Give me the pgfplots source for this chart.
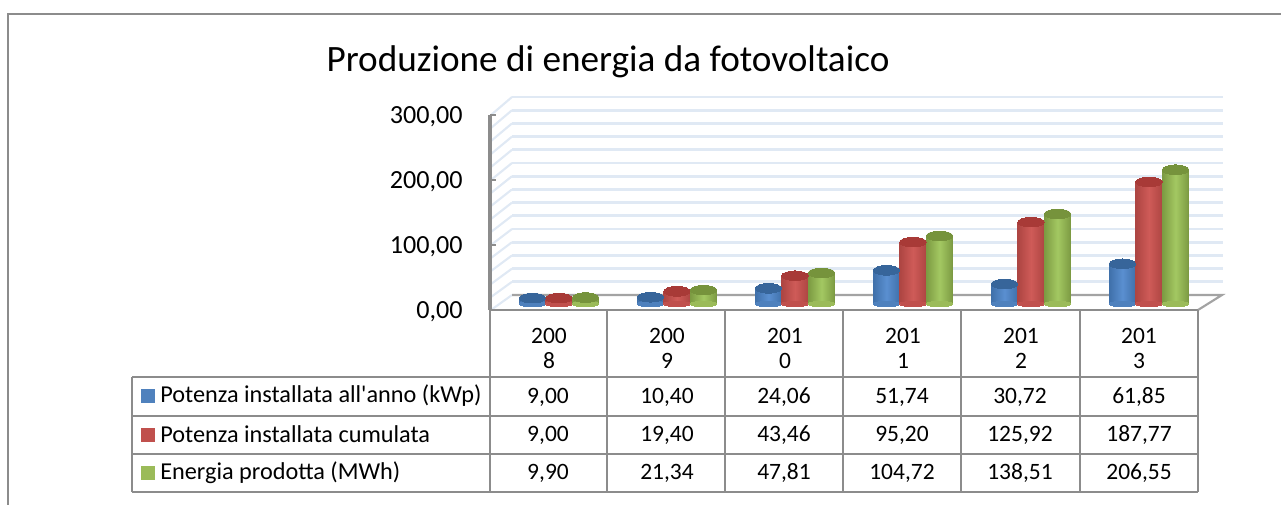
\documentclass[border=0pt]{standalone}
\usepackage{fontspec}
\setmainfont{Carlito}
\newfontfamily\plainf{Carlito}
\usepackage{pgfplots}
\usepackage{pgfplotstable}
\pgfplotsset{compat=1.18}
\definecolor{fr}{HTML}{8C8C8C}
\definecolor{gl}{HTML}{E0E9F4}
\definecolor{bl}{HTML}{4F81BD}\definecolor{blL}{HTML}{5A8FD0}\definecolor{blD}{HTML}{3F70AA}\definecolor{blC}{HTML}{37659A}
\definecolor{rd}{HTML}{C0504D}\definecolor{rdL}{HTML}{CF5B58}\definecolor{rdD}{HTML}{AD4542}\definecolor{rdC}{HTML}{A83A37}
\definecolor{gr}{HTML}{9BBB59}\definecolor{grL}{HTML}{A3C862}\definecolor{grD}{HTML}{7C9A42}\definecolor{grC}{HTML}{76933C}
\pgfplotstableread{
idx pot cum ene
0 9.00 9.00 9.90
1 10.40 19.40 21.34
2 24.06 43.46 47.81
3 51.74 95.20 104.72
4 30.72 125.92 138.51
5 61.85 187.77 206.55
}\datatab
\newcommand{\cell}[2]{\node[anchor=center,font=\fontsize{17.6}{20}\selectfont,inner sep=0pt] at (#1,#2)}
\pgfplotsset{
  capmark/.style n args={2}{only marks,mark=*,mark size=10pt,forget plot,
    color=#1,mark options={draw=#1,fill=#1,line width=0pt,xshift=#2,yscale=0.36}},
  basemark/.style n args={2}{only marks,mark=*,mark size=10pt,forget plot,
    color=#1,mark options={draw=#1,fill=#1,line width=0pt,xshift=#2,yscale=0.2}},
  cyl/.style n args={3}{draw=#2,line width=0pt,forget plot,bar shift=#1,
    left color=#2,right color=#2,middle color=#3}
}
\begin{document}
\begin{tikzpicture}[x=0.75pt,y=-0.75pt]
\path[use as bounding box] (0,0) rectangle (1281,505);
% outer frame
\draw[fr,line width=1.5pt] (1281,14) -- (8,14) -- (8,505);
% back wall gridlines
\begin{axis}[at={(384pt,-221.25pt)},anchor=south west,scale only axis,width=533.25pt,height=148.5pt,
  xmin=0,xmax=1,ymin=0,ymax=300,axis lines=none,clip=false]
\pgfplotsinvokeforeach{20,40,...,300}{\addplot[gl,line width=2.2pt,forget plot] coordinates {(0,#1)(1,#1)};}
\end{axis}
% left wall diagonals
\foreach \k in {0,...,15}{\draw[gl,line width=1.6pt] (491,{310-13*\k}) -- (512,{295-13.2*\k});}
% floor
\draw[fr!80,line width=1.6pt] (512,295) -- (1222,295) -- (1198,310);
% main axis with ticks and year labels
\begin{axis}[at={(367.5pt,-232.5pt)},anchor=south west,scale only axis,width=531pt,height=146.25pt,
  xmin=-0.5,xmax=5.5,ymin=0,ymax=300,axis x line*=bottom,axis y line*=left,
  axis line style={fr,line width=1.5pt,-},
  xtick={0,1,2,3,4,5},xticklabels={200\\8,200\\9,201\\0,201\\1,201\\2,201\\3},
  x tick style={draw=none},
  xticklabel style={align=center,font=\fontsize{17.6}{18.75}\selectfont,yshift=-10pt},
  ytick={0,100,200,300},
  y tick style={fr,line width=0.9pt},major tick length=4.5pt,
  yticklabel style={font=\fontsize{19.6}{22}\selectfont,xshift=-17pt,yshift=-1.5pt,
    /pgf/number format/.cd,fixed,fixed zerofill,precision=2,use comma,assume math mode=true},
  title={Produzione di energia da fotovoltaico},
  title style={at={(0.1667,1)},anchor=base,yshift=26.5pt,font=\fontsize{27.9}{32}\selectfont},
  clip=false]
\addplot[draw=none,forget plot] coordinates {(0,0)(5,0)};
\end{axis}
\draw[fr,line width=2.4pt] (490,115) -- (490,310);
% bars
\begin{axis}[at={(375pt,-228pt)},anchor=south west,scale only axis,width=531pt,height=146.25pt,
  xmin=-0.5,xmax=5.5,ymin=0,ymax=300,axis lines=none,clip=false,
  ybar,bar width=20pt]
\addplot[basemark={bl}{-19.9pt}] table[x=idx,y expr=0] {\datatab};
\pgfplotsinvokeforeach{0,...,5}{\addplot[cyl={-19.9pt}{blD}{blL},restrict x to domain=#1:#1] table[x=idx,y=pot] {\datatab};}
\addplot[capmark={blC}{-19.9pt}] table[x=idx,y=pot] {\datatab};
\addplot[basemark={rd}{0pt}] table[x=idx,y expr=0] {\datatab};
\pgfplotsinvokeforeach{0,...,5}{\addplot[cyl={0pt}{rdD}{rdL},restrict x to domain=#1:#1] table[x=idx,y=cum] {\datatab};}
\addplot[capmark={rdC}{0pt}] table[x=idx,y=cum] {\datatab};
\addplot[basemark={gr}{19.9pt}] table[x=idx,y expr=0] {\datatab};
\pgfplotsinvokeforeach{0,...,5}{\addplot[cyl={19.9pt}{grD}{grL},restrict x to domain=#1:#1] table[x=idx,y=ene] {\datatab};}
\addplot[capmark={grC}{19.9pt}] table[x=idx,y=ene] {\datatab};
\end{axis}
% data table
\foreach \xx in {607,725,843,961,1080,1198}{\draw[fr,line width=1.5pt] (\xx,310) -- (\xx,492);}
\draw[fr,line width=1.5pt] (490,310) -- (490,492);
\draw[fr,line width=1.5pt] (132,377) -- (1198,377);
\draw[fr,line width=1.5pt] (132,416) -- (1198,416);
\draw[fr,line width=1.5pt] (132,454) -- (1198,454);
\draw[fr,line width=1.5pt] (132,492) -- (1198,492);
\draw[fr,line width=1.5pt] (132,377) -- (132,492);
\fill[bl] (141,389) rectangle (155,403);
\fill[rd] (141,428) rectangle (155,442);
\fill[gr] (141,466) rectangle (155,480);
\node[anchor=west,font=\plainf\fontsize{18.2}{20}\selectfont,inner sep=0pt] at (160,396) {Potenza installata all'anno (kWp)};
\node[anchor=west,font=\fontsize{18.2}{20}\selectfont,inner sep=0pt] at (160,434) {Potenza installata cumulata};
\node[anchor=west,font=\fontsize{18.2}{20}\selectfont,inner sep=0pt] at (160,473) {Energia prodotta (MWh)};
\cell{548}{397}{9,00};\cell{667}{397}{10,40};\cell{784}{397}{24,06};\cell{902}{397}{51,74};\cell{1020}{397}{30,72};\cell{1139}{397}{61,85};
\cell{548}{435}{9,00};\cell{667}{435}{19,40};\cell{784}{435}{43,46};\cell{902}{435}{95,20};\cell{1020}{435}{125,92};\cell{1139}{435}{187,77};
\cell{548}{473}{9,90};\cell{667}{473}{21,34};\cell{784}{473}{47,81};\cell{902}{473}{104,72};\cell{1020}{473}{138,51};\cell{1139}{473}{206,55};
\end{tikzpicture}
\end{document}
